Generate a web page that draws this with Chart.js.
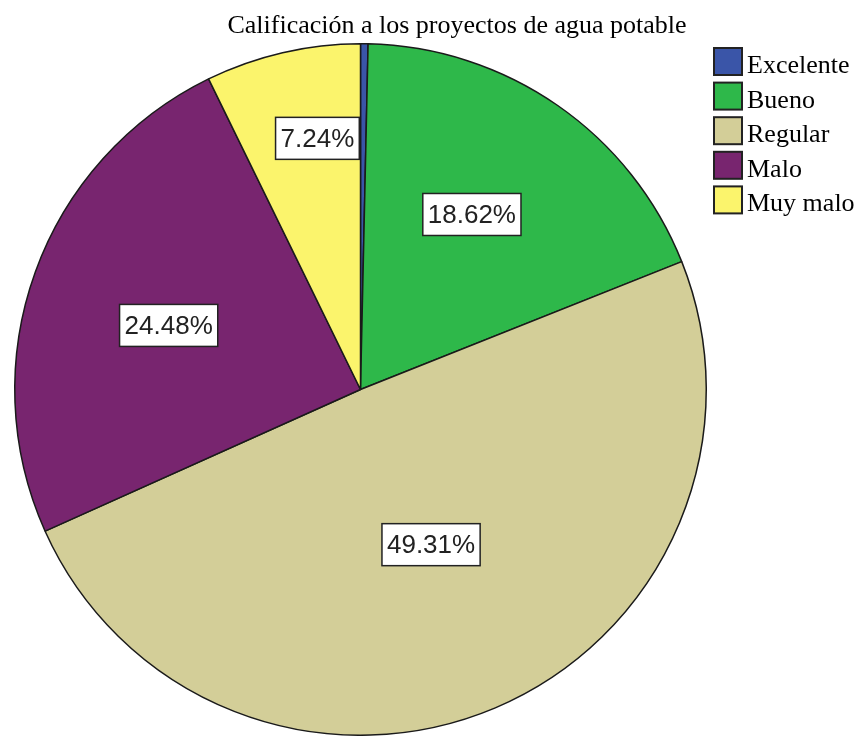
<!DOCTYPE html>
<html lang="es">
<head>
  <meta charset="UTF-8" />
  <title>Calificación a los proyectos de agua potable</title>
  <style>
    body { margin: 0; padding: 0; background: #fff; }
    .wrap { width: 864px; height: 736px; position: relative; }
  </style>
</head>
<body>
  <div class="wrap">
    <canvas id="chart" width="864" height="736"></canvas>
  </div>

  <script src="https://cdn.jsdelivr.net/npm/chart.js"></script>
  <script>
    const titleText = "Calificación a los proyectos de agua potable";
    const categories = ["Excelente", "Bueno", "Regular", "Malo", "Muy malo"];
    const percents = [0.35, 18.62, 49.31, 24.48, 7.24];
    const sliceColors = ["#3a55a8", "#2eb84a", "#d3ce98", "#78256f", "#fbf46c"];

    // where each percent box sits: fraction of radius + small angle nudge (deg); null = no box
    const labelRadius = [null, 0.60, 0.493, 0.585, 0.737];
    const labelNudge = [0, -2.3, -1.5, -1.4, 3.3];

    const serif = '"Liberation Serif", "DejaVu Serif", serif';
    const sans = '"Liberation Sans", Arial, sans-serif';

    const titlePlugin = {
      id: "spssTitle",
      afterDraw(chart) {
        const ctx = chart.ctx;
        ctx.save();
        ctx.font = "26px " + serif;
        ctx.fillStyle = "#000";
        ctx.textAlign = "center";
        ctx.textBaseline = "alphabetic";
        ctx.fillText(titleText, 457, 33);
        ctx.restore();
      }
    };

    const legendPlugin = {
      id: "spssLegend",
      afterDraw(chart) {
        const ctx = chart.ctx;
        ctx.save();
        ctx.font = "26px " + serif;
        ctx.textBaseline = "alphabetic";
        categories.forEach((c, i) => {
          const y = 48 + i * 34.6;
          ctx.fillStyle = sliceColors[i];
          ctx.fillRect(714, y, 28, 27);
          ctx.lineWidth = 2;
          ctx.strokeStyle = "#222";
          ctx.strokeRect(714, y, 28, 27);
          ctx.fillStyle = "#000";
          ctx.fillText(c, 747, y + 25);
        });
        ctx.restore();
      }
    };

    const boxLabelPlugin = {
      id: "boxLabels",
      afterDatasetsDraw(chart) {
        const ctx = chart.ctx;
        const meta = chart.getDatasetMeta(0);
        ctx.save();
        ctx.font = "26px " + sans;
        ctx.textAlign = "center";
        ctx.textBaseline = "middle";
        meta.data.forEach((arc, i) => {
          if (labelRadius[i] == null) return;
          const p = arc.getProps(["x", "y", "startAngle", "endAngle", "outerRadius"], true);
          const mid = (p.startAngle + p.endAngle) / 2 + labelNudge[i] * Math.PI / 180;
          const r = p.outerRadius * labelRadius[i];
          const cx = p.x + Math.cos(mid) * r;
          const cy = p.y + Math.sin(mid) * r;
          const txt = percents[i].toFixed(2) + "%";
          const w = ctx.measureText(txt).width + 10;
          const h = 42;
          ctx.fillStyle = "#fff";
          ctx.fillRect(cx - w / 2, cy - h / 2, w, h);
          ctx.lineWidth = 1.5;
          ctx.strokeStyle = "#222";
          ctx.strokeRect(cx - w / 2, cy - h / 2, w, h);
          ctx.fillStyle = "#222";
          ctx.fillText(txt, cx, cy + 1);
        });
        ctx.restore();
      }
    };

    new Chart(document.getElementById("chart"), {
      type: "pie",
      data: {
        labels: categories,
        datasets: [{
          data: percents,
          backgroundColor: sliceColors,
          borderColor: "#1a1a1a",
          borderWidth: 1.5
        }]
      },
      options: {
        responsive: false,
        animation: false,
        layout: { padding: { top: 43, bottom: 0, left: 14, right: 157 } },
        plugins: {
          legend: { display: false },
          title: { display: false },
          tooltip: { enabled: false }
        }
      },
      plugins: [titlePlugin, legendPlugin, boxLabelPlugin]
    });
  </script>
</body>
</html>
